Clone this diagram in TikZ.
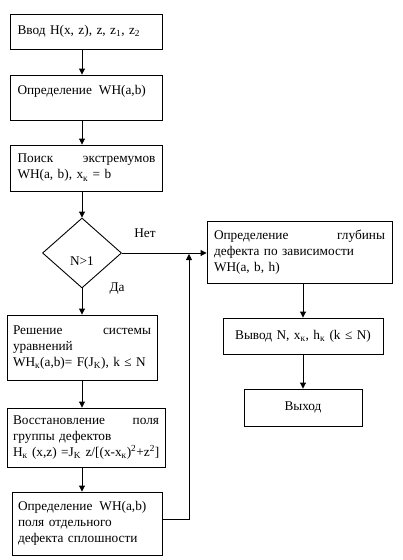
\documentclass[tikz,border=0pt]{standalone}
\usepackage{fontspec}
\setmainfont{Liberation Serif}
\usetikzlibrary{shapes.geometric,arrows.meta}
\tikzset{
  box/.style={draw, line width=0.9pt, inner xsep=7pt, inner ysep=0pt, align=left,
    font=\fontsize{13.3}{16}\selectfont},
  plain/.style={inner sep=0pt, font=\fontsize{13.3}{16}\selectfont},
  arr/.style={line width=0.9pt, -{Triangle[length=6pt,width=6pt]}},
  ln/.style={line width=0.9pt}
}
\newcommand{\sbk}{\textsubscript{к}}
\begin{document}
\begin{tikzpicture}[x=1pt,y=-1pt]
\useasboundingbox (0,0) rectangle (402,560);
% left column
\node[box, text width=138, minimum height=35] (b1) at (86.5,31.5)
  {Ввод H(x, z), z, z\textsubscript{1}, z\textsubscript{2}};
\node[box, text width=138, minimum height=45] (b2) at (86.5,97.5)
  {Определение\hspace{7pt}WH(a,b)\\\mbox{}};
\node[box, text width=138, minimum height=46] (b3) at (86.5,168)
  {Поиск\hfill экстремумов\\WH(a, b), x\sbk{} = b};
\node[draw, line width=0.9pt, diamond, minimum width=79, minimum height=70, inner sep=0pt] (dm) at (82,253) {};
\node[plain] (dmt) at (82,261) {N>1};
\node[plain] (no) at (145,233) {Нет};
\node[plain] (yes) at (117,289) {Да};
\node[box, inner xsep=6pt, text width=138, minimum height=65] (b4) at (82,347.5)
  {Решение\hfill системы\\уравнений\\WH\sbk(a,b)= F(J\textsubscript{K}), k ≤ N};
\node[box, inner xsep=6pt, text width=146, minimum height=59] (b5) at (86,437.5)
  {Восстановление\hfill поля\\группы дефектов\\\mbox{H\sbk{} (x,z) =J\textsubscript{K} z/[(x-x\sbk)\textsuperscript{2}+z\textsuperscript{2}]}};
\node[box, inner xsep=6pt, text width=138, minimum height=63] (b6) at (87,523.5)
  {Определение\hspace{7pt}WH(a,b)\\поля отдельного\\дефекта сплошности};
% right column
\node[box, inner xsep=7pt, text width=171, minimum height=62] (rb) at (299.5,252)
  {Определение\hfill глубины\\дефекта по зависимости\\WH(a, b, h)};
\node[box, align=center, text width=146, minimum height=36] (out) at (303,336)
  {Вывод N, x\sbk, h\sbk{} (k ≤ N)};
\node[box, align=center, text width=104, minimum height=37] (ex) at (303,407.5)
  {Выход};
\coordinate (jn) at (189,254);
% connectors
\draw[arr] (b1.south -| dm.north) -- (b2.north -| dm.north);
\draw[arr] (b2.south -| dm.north) -- (b3.north -| dm.north);
\draw[arr] (b3.south -| dm.north) -- (dm.north);
\draw[arr] (dm.south) -- (b4.north -| dm.south);
\draw[arr] (b4.south -| dm.south) -- (b5.north -| dm.south);
\draw[arr] (b5.south -| dm.south) -- (b6.north -| dm.south);
\draw[arr] (dm.east) -- (rb.west |- dm.east);
\draw[arr] ([yshift=4.5pt]b6.east) -| (jn);
\draw[arr] (rb.south -| out.north) -- (out.north);
\draw[arr] (out.south) -- (ex.north);
\end{tikzpicture}
\end{document}
